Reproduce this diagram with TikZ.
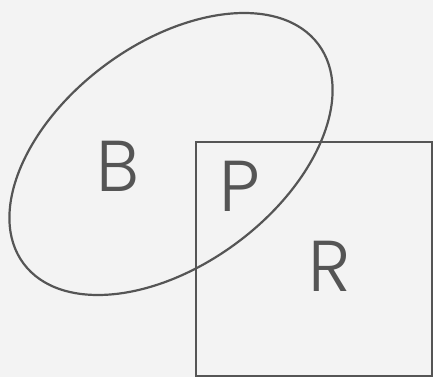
\documentclass[tikz,border=0pt]{standalone}
\usepackage{fontspec}
\setmainfont{Poppins Light}
\definecolor{bg}{HTML}{F3F3F3}
\definecolor{ln}{HTML}{555555}
\begin{document}
\begin{tikzpicture}[x=1pt,y=-1pt,
  shapeline/.style={draw=ln,line width=2.2pt},
  lbl/.style={text=ln,font=\fontsize{72}{72}\selectfont,inner sep=0pt}]
\fill[bg] (0,0) rectangle (433,377);
\useasboundingbox (0,0) rectangle (433,377);
\draw[shapeline] (196,142) rectangle (432,376);
\draw[shapeline,rotate around={36.6:(171,154)}] (171,154) ellipse [x radius=183.7,y radius=110.6];
\node[lbl] (b) at (118,166) {B};
\node[lbl] (p) at (240,186) {P};
\node[lbl] (r) at (330,266) {R};
\end{tikzpicture}
\end{document}
